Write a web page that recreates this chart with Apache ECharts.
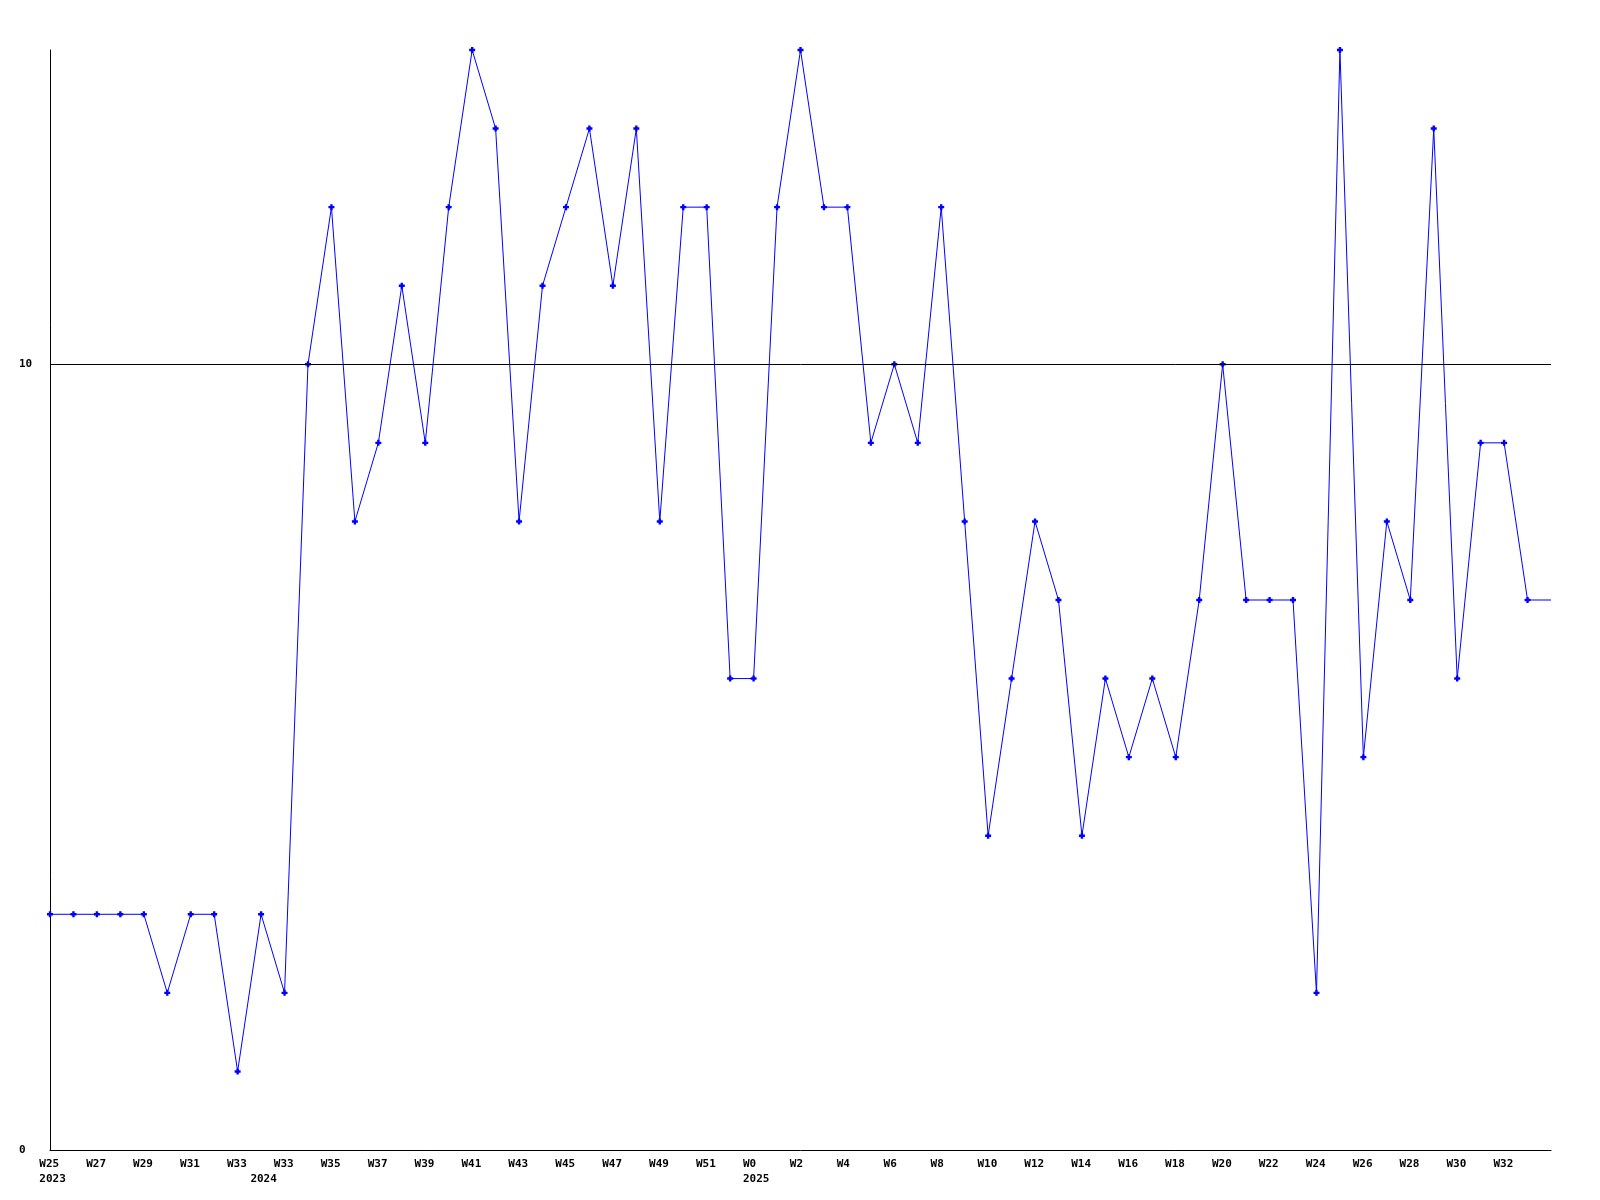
<!DOCTYPE html>
<html>
<head>
<meta charset="utf-8">
<script src="https://cdn.jsdelivr.net/npm/echarts@6/dist/echarts.min.js"></script>
<style>html,body{margin:0;padding:0;background:#fff}#c{width:1600px;height:1200px}</style>
</head>
<body>
<div id="c"></div>
<script>
const years = [
  2023,2023,2023,2023,2023,2023,2023,2023,2023,
  2024,2024,2024,2024,2024,2024,2024,2024,2024,2024,2024,2024,2024,2024,2024,2024,2024,2024,2024,2024,2024,
  2025,2025,2025,2025,2025,2025,2025,2025,2025,2025,2025,2025,2025,2025,2025,2025,2025,2025,2025,2025,2025,2025,2025,2025,2025,2025,2025,2025,2025,2025,2025,2025,2025,2025,2025
];
const weeks = [
  25,26,27,28,29,30,31,32,33,
  32,33,34,35,36,37,38,39,40,41,42,43,44,45,46,47,48,49,50,51,52,
  0,1,2,3,4,5,6,7,8,9,10,11,12,13,14,15,16,17,18,19,20,21,22,23,24,25,26,27,28,29,30,31,32,33,34
];
const values = [
  3,3,3,3,3,2,3,3,1,
  3,2,10,12,8,9,11,9,12,14,13,8,11,12,13,11,13,8,12,12,6,
  6,12,14,12,12,9,10,9,12,8,4,6,8,7,4,6,5,6,5,7,10,7,7,7,2,14,5,8,7,13,6,9,9,7,7
];
const yTickLabels = { 0: '0', 10: '10' };
const gridValue = 10;

const categories = weeks.map((w, i) => years[i] + '-W' + w);
const lastIdx = values.length - 1;
const seriesData = values.map((v, i) => i === lastIdx ? { value: v, symbol: 'none' } : v);

const chart = echarts.init(document.getElementById('c'));
const font = '"DejaVu Sans Mono", monospace';
chart.setOption({
  animation: false,
  backgroundColor: '#ffffff',
  grid: { left: 50, right: 49, top: 50, bottom: 50, containLabel: false },
  xAxis: {
    type: 'category',
    data: categories,
    boundaryGap: false,
    axisLine: { lineStyle: { color: '#000', width: 1 } },
    axisTick: { show: false },
    splitLine: { show: false },
    axisLabel: {
      interval: 0,
      margin: 7,
      formatter: function (val, i) {
        if (i === lastIdx) return '';
        const first = (i % 2 === 0) ? 'W' + weeks[i] : ' ';
        const yearStart = i === 0 || years[i] !== years[i - 1];
        if (i % 2 !== 0 && !yearStart) return '';
        return '{a|' + first + '}' + (yearStart ? '\n{a|' + years[i] + '}' : '');
      },
      rich: {
        a: { width: 21.4, align: 'left', fontFamily: font, fontWeight: 'bold', fontSize: 11, color: '#000', lineHeight: 15 }
      }
    }
  },
  yAxis: {
    type: 'value',
    min: 0,
    max: 14,
    interval: 10,
    axisLine: { show: true, lineStyle: { color: '#000', width: 1 } },
    axisTick: { show: false },
    splitLine: { show: false },
    axisLabel: {
      showMaxLabel: false,
      align: 'left',
      margin: 31,
      fontFamily: font,
      fontWeight: 'bold',
      fontSize: 11,
      color: '#000',
      formatter: v => yTickLabels[v] !== undefined ? yTickLabels[v] : ''
    }
  },
  series: [{
    type: 'line',
    data: seriesData,
    symbol: 'path://M1.5,0h2v1.5h1.5v2h-1.5v1.5h-2v-1.5h-1.5v-2h1.5z',
    symbolSize: 6,
    showAllSymbol: true,
    lineStyle: { color: '#0000ff', width: 1 },
    itemStyle: { color: '#0000ff' },
    markLine: {
      silent: true,
      symbol: 'none',
      label: { show: false },
      lineStyle: { color: '#000', width: 1, type: 'solid' },
      data: [{ yAxis: gridValue }]
    }
  }]
});
</script>
</body>
</html>
